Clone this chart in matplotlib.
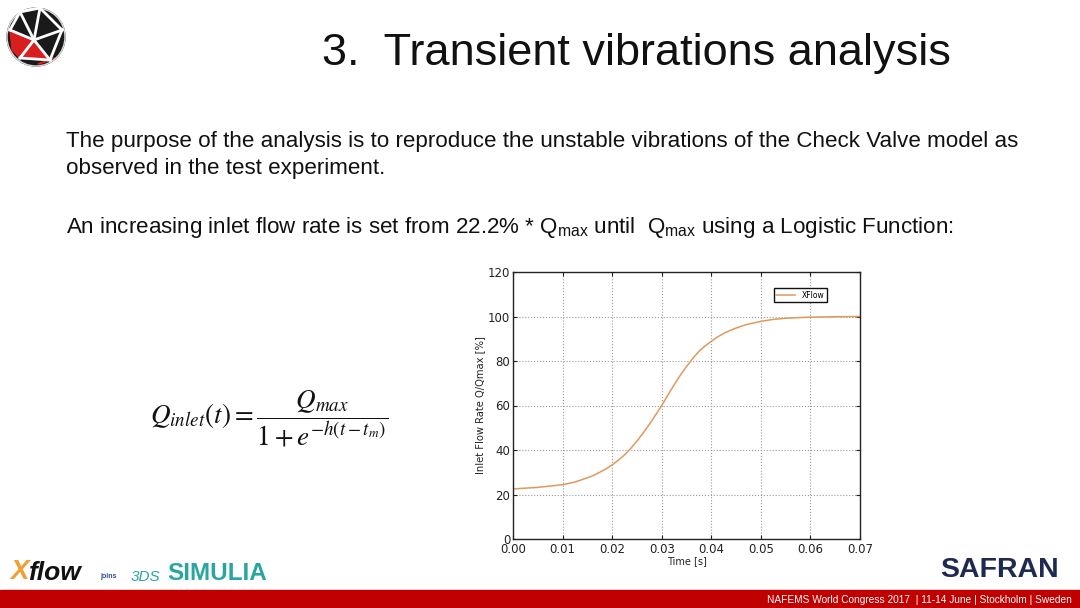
import numpy as np
import matplotlib
matplotlib.use("Agg")
import matplotlib.pyplot as plt
from matplotlib.patches import Rectangle, Circle, Polygon

# curve (time in s, flow in % of Qmax)
time_s = [0.0, 0.005, 0.01, 0.0125, 0.015, 0.01625, 0.0175, 0.01875, 0.02, 0.02125,
          0.0225, 0.02375, 0.025, 0.02625, 0.0275, 0.02875, 0.03, 0.03125, 0.0325, 0.03375,
          0.035, 0.03625, 0.0375, 0.03875, 0.04, 0.04125, 0.0425, 0.04375, 0.045, 0.04625,
          0.0475, 0.05, 0.0525, 0.055, 0.0575, 0.06, 0.065, 0.07]
flow_pct = [22.5, 23.2, 24.4, 25.6, 27.5, 28.6, 30.0, 31.5, 33.3, 35.4,
            37.8, 40.7, 44.0, 47.6, 51.5, 55.7, 60.0, 64.7, 69.3, 73.6,
            77.5, 81.1, 84.3, 86.8, 88.8, 90.8, 92.4, 93.7, 94.8, 95.8,
            96.6, 97.8, 98.7, 99.2, 99.5, 99.7, 99.9, 100.0]
xticks = [0.00, 0.01, 0.02, 0.03, 0.04, 0.05, 0.06, 0.07]
yticks = [0, 20, 40, 60, 80, 100, 120]

title = "3.  Transient vibrations analysis"
line1 = "The purpose of the analysis is to reproduce the unstable vibrations of the Check Valve model as"
line2 = "observed in the test experiment."
line3 = r"An increasing inlet flow rate is set from 22.2% * Q$_{\mathregular{max}}$ until  Q$_{\mathregular{max}}$ using a Logistic Function:"
footer = "NAFEMS World Congress 2017  | 11-14 June | Stockholm | Sweden"

fig = plt.figure(figsize=(10.8, 6.08), dpi=100)
fig.patch.set_facecolor("white")
W, H = 1080, 608

def fx(px):
    return px / W

def fy(py):
    return 1 - py / H

sans = "Liberation Sans"

# slide texts
fig.text(fx(322), fy(54), title, fontsize=32.5, family=sans, va="center", ha="left", color="#111111")
fig.text(fx(66), fy(141), line1, fontsize=16.15, family=sans, va="center", color="#111111")
fig.text(fx(66), fy(168), line2, fontsize=16.15, family=sans, va="center", color="#111111")
fig.text(fx(66), fy(227), line3, fontsize=16.15, family=sans, va="center", color="#111111")

plt.rcParams["mathtext.fontset"] = "stix"
fig.text(fx(150), fy(419), r"$Q_{inlet}(t) = \dfrac{Q_{max}}{1+e^{-h(t-t_m)}}$",
         fontsize=19.5, va="center", ha="left", color="#111111")

# background layer: red bar, logos
bg = fig.add_axes([0, 0, 1, 1], zorder=-1)
bg.set_xlim(0, W)
bg.set_ylim(H, 0)
bg.axis("off")
bg.add_patch(Rectangle((0, 590), W, 18, color="#c00000"))
bg.text(1072, 600, footer, fontsize=7.3, family=sans, color="white", ha="right", va="center")

# top-left sphere logo (rough)
cx, cy, r = 36, 37, 29
bg.add_patch(Circle((cx, cy), r, color="#1a1a1a"))
bg.add_patch(Polygon([(10, 30), (34, 40), (20, 58), (12, 50)], closed=True, color="#d81e1e"))
bg.add_patch(Polygon([(34, 40), (50, 60), (20, 58)], closed=True, color="#d81e1e"))
bg.add_patch(Polygon([(38, 64), (55, 58), (50, 60)], closed=True, color="#d81e1e"))
for a, b in [((10, 30), (34, 40)), ((34, 40), (20, 58)), ((34, 40), (50, 60)),
             ((20, 12), (34, 40)), ((34, 40), (62, 30)), ((40, 8), (62, 30)),
             ((20, 12), (40, 8)), ((10, 30), (20, 12)), ((20, 58), (50, 60)),
             ((50, 60), (62, 30)), ((40, 8), (34, 40))]:
    bg.plot([a[0], b[0]], [a[1], b[1]], color="white", lw=2)
bg.add_patch(Circle((cx, cy), r, fill=False, ec="#dddddd", lw=1))

# bottom logos
bg.text(10, 585, "X", fontsize=20, family=sans, weight="bold", style="italic", color="#f0a030", va="bottom")
bg.text(28, 585, "flow", fontsize=19, family=sans, weight="bold", style="italic", color="#111111", va="bottom")
bg.text(100, 580, "joins", fontsize=5, family=sans, weight="bold", color="#2a4a9a", va="bottom")
bg.text(131, 584, "3DS", fontsize=11, family=sans, color="#2aa6a0", va="bottom", style="italic")
bg.text(167, 585, "SIMULIA", fontsize=17.5, family=sans, weight="bold", color="#2aa6a0", va="bottom")
bg.text(940, 583, "SAFRAN", fontsize=20.5, family=sans, weight="bold", color="#1f2a50", va="bottom")

# chart
ax = fig.add_axes([fx(513), fy(539), fx(860) - fx(513), fy(272) - fy(539)])
ax.plot(time_s, flow_pct, color="#dd9a5e", lw=1.1, label="XFlow")
ax.set_xlim(0, 0.07)
ax.set_ylim(0, 120)
ax.set_xticks(xticks)
ax.set_yticks(yticks)
ax.set_xticklabels(["%.2f" % v for v in xticks])
ax.tick_params(direction="in", labelsize=8.5, length=3, top=True, right=True, pad=2, colors="#222222")
ax.tick_params(axis="x", pad=3)
ax.grid(True, linestyle=":", color="#999999", lw=0.8)
for s in ax.spines.values():
    s.set_color("#222222")
    s.set_linewidth(1)
ax.set_xlabel("Time [s]", fontsize=7, labelpad=0, color="#222222")
ax.set_ylabel("Inlet Flow Rate Q/Qmax [%]", fontsize=7.2, labelpad=2, color="#222222")
leg = ax.legend(loc="upper left", bbox_to_anchor=(0.74, 0.955), fontsize=5.5, fancybox=False,
                framealpha=1, handlelength=2.5, borderpad=0.35)
leg.get_frame().set_edgecolor("#111111")
leg.get_frame().set_linewidth(1)

fig.savefig("out.png", dpi=100)
